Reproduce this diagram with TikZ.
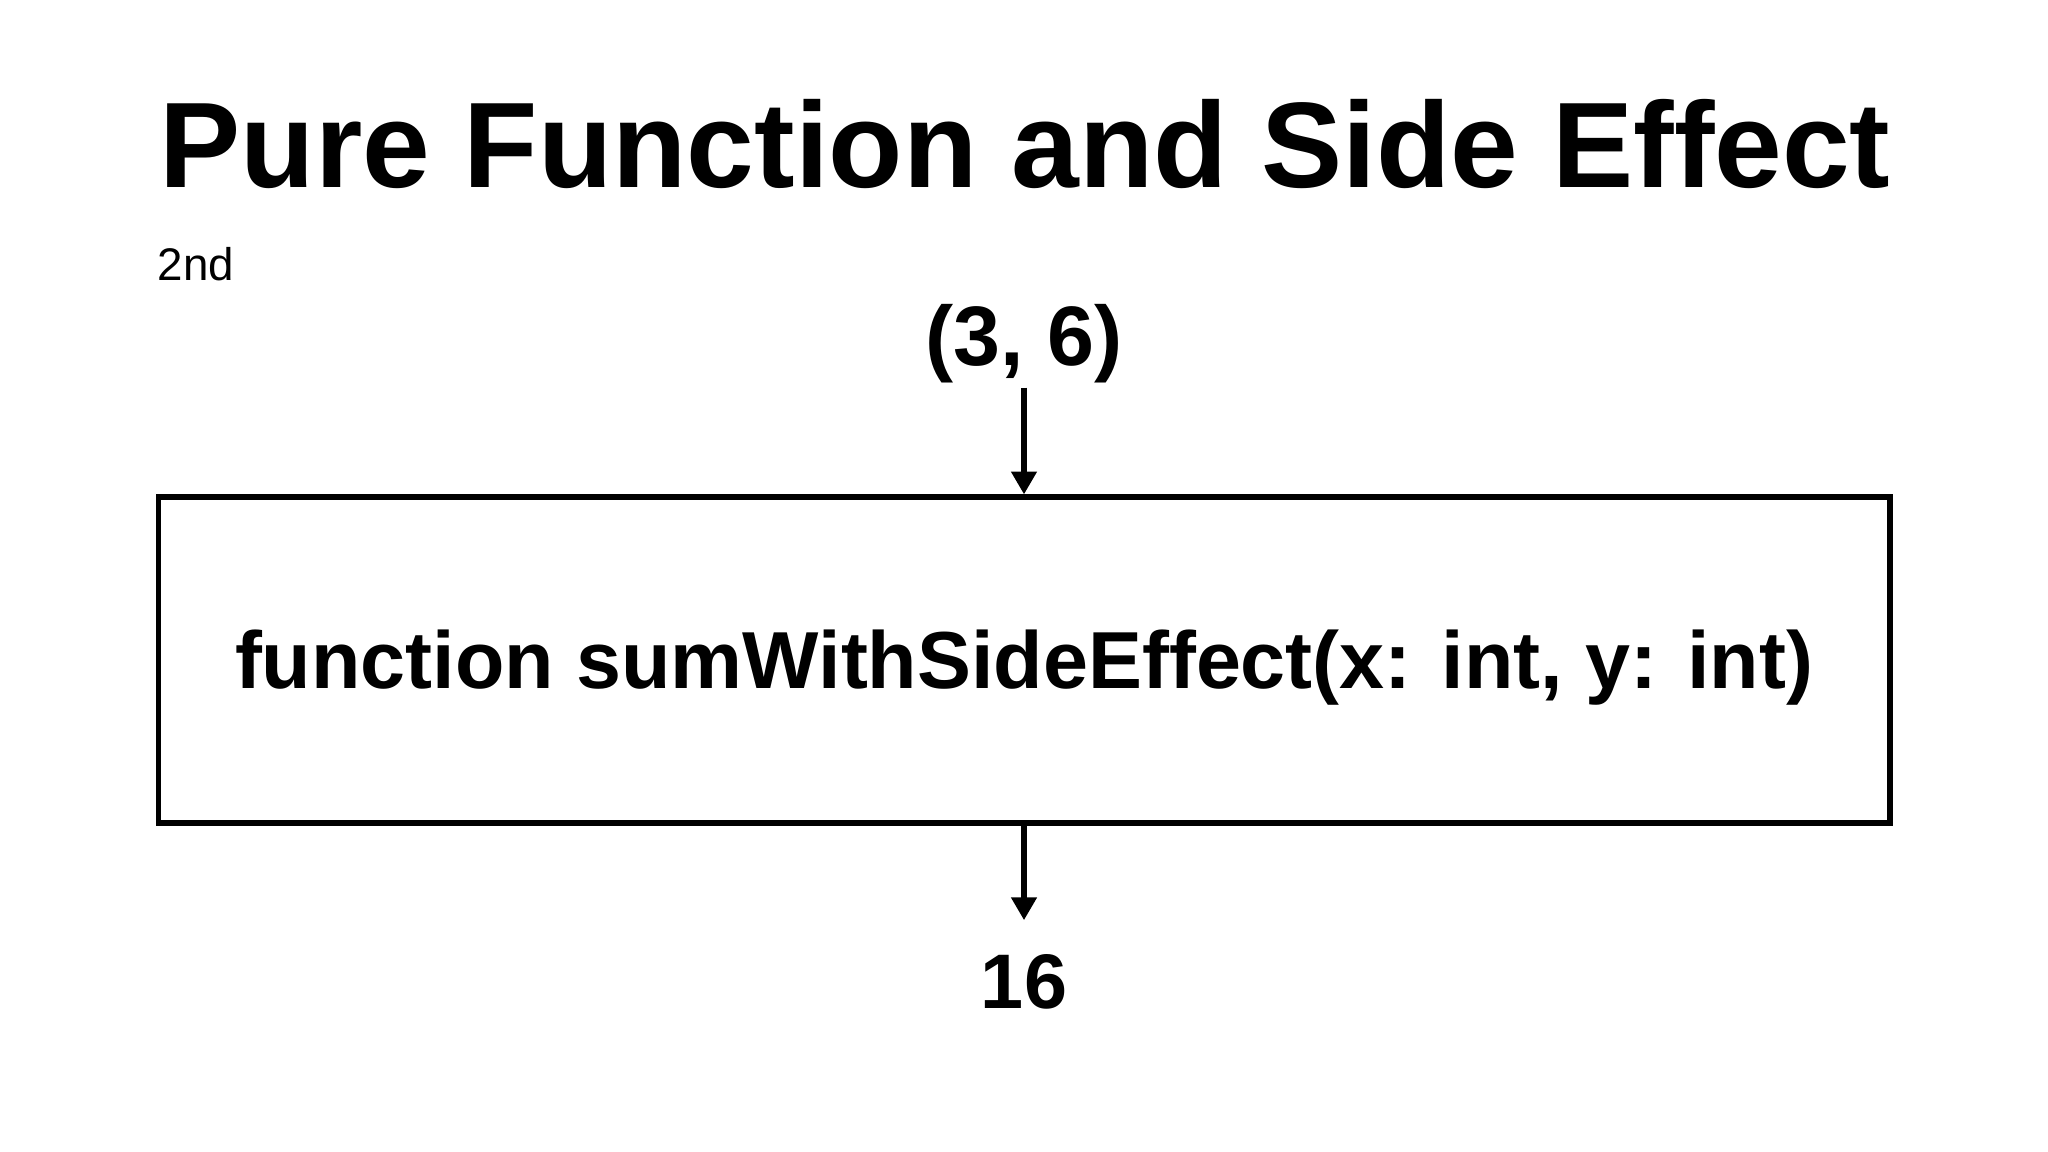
\documentclass[tikz,border=0pt]{standalone}
\usepackage{fontspec}
\setmainfont{Liberation Sans}
\usetikzlibrary{arrows.meta}

\begin{document}
\begin{tikzpicture}[x=0.01cm,y=-0.01cm,
    bigtext/.style={font=\bfseries\fontsize{22}{26}\selectfont},
    conn/.style={-{Triangle[width=7pt,length=6.5pt]},line width=1.6pt}]
  \useasboundingbox (0,0) rectangle (2048,1152);
  \node[anchor=base west,inner sep=0pt,font=\bfseries\fontsize{34.6}{40}\selectfont] (title) at (159,188) {Pure Function and Side Effect};
  \node[anchor=base west,inner sep=0pt,font=\fontsize{13}{15}\selectfont] (version) at (157,281) {2nd};
  \node[bigtext,font=\bfseries\fontsize{24}{28}\selectfont,anchor=base,inner sep=1pt] (input) at (1024,366) {(3, 6)};
  \node[bigtext,font=\bfseries\fontsize{23}{27}\selectfont,draw,line width=1.7pt,minimum width=17.3cm,minimum height=3.25cm,
        text height=16.4pt,text depth=0pt] (func) at (1024,660) {function sumWithSideEffect(x: int, y: int)};
  \node[bigtext,anchor=base,inner sep=9.4pt] (output) at (1024,1008) {16};

  \draw[conn] (input) -- (func);
  \draw[conn] (func) -- (output);
\end{tikzpicture}
\end{document}
